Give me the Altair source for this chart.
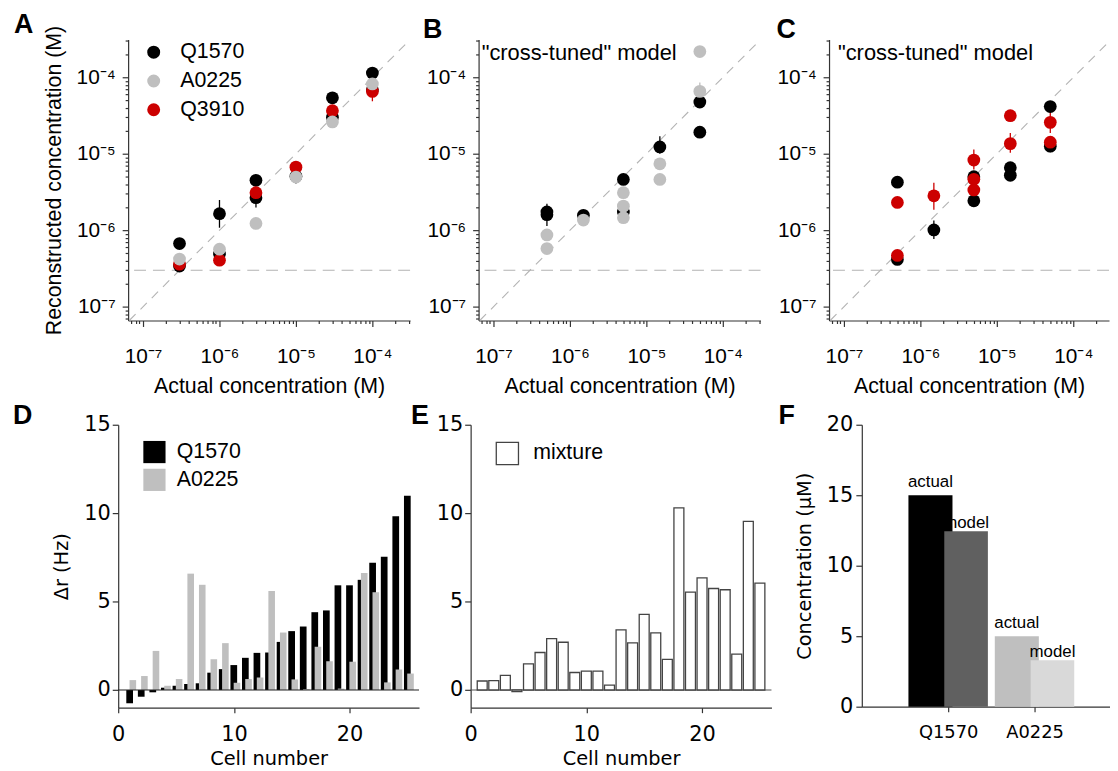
import altair as alt
import pandas as pd

FONT = "Liberation Sans"
FONT2 = "DejaVu Sans"
BLACK, GRAY, RED = "#000000", "#bfbfbf", "#cc0000"

# ---------------- Panel A : single odors ----------------
A_Q1570_x = [3e-7, 3e-7, 1e-6, 1e-6, 3e-6, 3e-6, 1e-5, 3e-5, 3e-5, 1e-4, 1e-4]
A_Q1570_y = [6.7e-7, 3.4e-7, 1.65e-6, 4.9e-7, 4.5e-6, 2.67e-6, 5.1e-6, 5.4e-5, 3.0e-5, 1.14e-4, 6.9e-5]
A_A0225_x = [3e-7, 1e-6, 3e-6, 1e-5, 3e-5, 1e-4]
A_A0225_y = [4.2e-7, 5.65e-7, 1.23e-6, 4.97e-6, 2.61e-5, 8.2e-5]
A_Q3910_x = [3e-7, 1e-6, 3e-6, 1e-5, 3e-5, 1e-4]
A_Q3910_y = [3.6e-7, 4.06e-7, 3.1e-6, 6.7e-6, 3.67e-5, 6.56e-5]
A_err_odor = ["Q1570", "Q1570", "Q1570", "Q3910"]
A_err_x = [1e-6, 3e-6, 1e-5, 1e-4]
A_err_lo = [1.08e-6, 1.98e-6, 4.1e-6, 4.87e-5]
A_err_hi = [2.49e-6, 3.2e-6, 5.8e-6, 7.8e-5]

# ---------------- Panel B : Q1570 + A0225 mixtures ----------------
B_Q1570_x = [5e-7, 5e-7, 1.5e-6, 5e-6, 5e-6, 1.5e-5, 5e-5, 5e-5]
B_Q1570_y = [1.74e-6, 1.6e-6, 1.57e-6, 4.62e-6, 1.73e-6, 1.23e-5, 4.76e-5, 1.92e-5]
B_A0225_x = [5e-7, 5e-7, 1.5e-6, 5e-6, 5e-6, 5e-6, 1.5e-5, 1.5e-5, 5e-5, 5e-5]
B_A0225_y = [8.7e-7, 5.77e-7, 1.36e-6, 3.1e-6, 2.07e-6, 1.46e-6, 7.41e-6, 4.62e-6, 6.56e-5, 2.18e-4]
B_err_odor = ["Q1570", "Q1570", "A0225"]
B_err_x = [5e-7, 1.5e-5, 5e-5]
B_err_lo = [1.14e-6, 1.0e-5, 5.5e-5]
B_err_hi = [2.23e-6, 1.7e-5, 8.6e-5]

# ---------------- Panel C : Q1570 + Q3910 mixtures ----------------
C_Q1570_x = [5e-7, 5e-7, 1.5e-6, 5e-6, 5e-6, 1.5e-5, 1.5e-5, 5e-5, 5e-5]
C_Q1570_y = [4.25e-6, 4.16e-7, 1.01e-6, 5.02e-6, 2.43e-6, 6.58e-6, 5.24e-6, 4.16e-5, 1.26e-5]
C_Q3910_x = [5e-7, 5e-7, 1.5e-6, 5e-6, 5e-6, 5e-6, 1.5e-5, 1.5e-5, 5e-5, 5e-5]
C_Q3910_y = [2.31e-6, 4.69e-7, 2.82e-6, 8.28e-6, 4.65e-6, 3.37e-6, 3.15e-5, 1.36e-5, 2.58e-5, 1.42e-5]
C_err_odor = ["Q1570", "Q3910", "Q3910", "Q3910", "Q3910", "Q1570"]
C_err_x = [1.5e-6, 1.5e-6, 5e-6, 1.5e-5, 5e-5, 5e-5]
C_err_lo = [7.7e-7, 1.85e-6, 6.26e-6, 1.03e-5, 1.87e-5, 1.05e-5]
C_err_hi = [1.34e-6, 4.2e-6, 1.14e-5, 1.87e-5, 3.58e-5, 1.5e-5]

NOISE_FLOOR = 3e-7
NOTE = '"cross-tuned" model'

# ---------------- Panel D / E : cell responses ----------------
CELLS = list(range(1, 26))
D_Q1570 = [-0.75, -0.38, -0.13, 0.13, 0.24, 0.34, 0.38, 0.98, 1.18, 1.41, 1.82, 2.1, 2.12,
           2.72, 3.33, 3.59, 4.4, 4.5, 5.92, 5.92, 6.23, 7.19, 7.54, 9.83, 10.99]
D_A0225 = [0.56, 0.79, 2.21, 0.24, 0.62, 6.58, 5.95, 1.74, 2.65, 0.41, 0.62, 0.71, 5.6,
           3.25, 0.6, 0.05, 2.45, 1.62, 0.08, 1.6, 6.62, 5.53, 0.43, 1.16, 0.93]
E_MIX = [0.51, 0.53, 0.83, -0.09, 1.48, 2.12, 2.91, 2.7, 0.99, 1.07, 1.07, 0.28, 3.4,
         2.66, 4.28, 3.23, 1.73, 10.3, 5.53, 6.34, 5.74, 5.67, 2.03, 9.53, 6.04]

# ---------------- Panel F : mixture decoding ----------------
F_ODORS = ["Q1570", "A0225"]
F_ACTUAL = [15.0, 5.0]
F_MODEL = [12.45, 3.3]

# ======================================================================
LOG_LO = 10 ** -7.195
X_HI = 10 ** -3.507
X_HI_C = 10 ** -3.533
Y_LO = 10 ** -7.18
Y_HI = 10 ** -3.505

SUP = {"-": "\u207b", "0": "\u2070", "1": "\u00b9", "2": "\u00b2", "3": "\u00b3", "4": "\u2074",
       "5": "\u2075", "6": "\u2076", "7": "\u2077", "8": "\u2078", "9": "\u2079"}
LOGV = "log(datum.value)/LN10"
MAJOR = f"abs({LOGV} - round({LOGV})) < 0.01"


def sup(e):
    return "".join(SUP[c] for c in str(e))


def log_label_expr():
    inner = "''"
    for e in [-9, -8, -7, -6, -5, -4, -3]:
        inner = f"round({LOGV}) == {e} ? '10{sup(e)}' : ({inner})"
    return f"{MAJOR} ? ({inner}) : ''"


def log_ticks(lo, hi):
    vals = []
    for e in range(-9, -2):
        for k in range(1, 10):
            v = float(f"{k}e{e}")
            if lo <= v <= hi:
                vals.append(v)
    return vals


TICK_COND = {"condition": {"test": MAJOR, "value": 6}, "value": 3}
ODOR_SCALE = alt.Scale(domain=["Q1570", "A0225", "Q3910"], range=[BLACK, GRAY, RED])


def letter(t, dx, offset=0, dy=0):
    return alt.TitleParams(text=t, anchor="start", frame="group", dx=dx, dy=dy, offset=offset,
                           baseline="alphabetic", fontSize=27, fontWeight="bold", font=FONT,
                           color="black")


def points_df(series):
    rows = []
    for name, xs, ys in series:
        for x, y in zip(xs, ys):
            rows.append({"odor": name, "x": x, "y": y})
    return pd.DataFrame(rows)


def scatter_panel(points, errs, width, xhi, let, let_dx, ytitle, legend, note_x=None):
    xs = alt.Scale(type="log", domain=[LOG_LO, xhi], nice=False)
    ys = alt.Scale(type="log", domain=[Y_LO, Y_HI], nice=False)
    xaxis = alt.Axis(title="Actual concentration (M)", values=log_ticks(LOG_LO, xhi),
                     labelExpr=log_label_expr(), tickSize=TICK_COND, labelPadding=19,
                     titlePadding=10, labelOverlap=False, labelFlush=False)
    yaxis = alt.Axis(title=ytitle, values=log_ticks(Y_LO, Y_HI), labelExpr=log_label_expr(),
                     tickSize=TICK_COND, labelPadding=7, titlePadding=11, labelOverlap=False,
                     labelFlush=False)
    X = alt.X("x:Q", scale=xs, axis=xaxis)
    Y = alt.Y("y:Q", scale=ys, axis=yaxis)
    d_lo, d_hi = max(LOG_LO, Y_LO), min(xhi, Y_HI)
    diag = alt.Chart(pd.DataFrame({"x": [d_lo, d_hi], "y": [d_lo, d_hi]})).mark_line(
        color="#b3b3b3", strokeDash=[9, 7], strokeWidth=1.1, clip=True).encode(x=X, y=Y)
    floor = alt.Chart(pd.DataFrame({"y": [NOISE_FLOOR]})).mark_rule(
        color="#b3b3b3", strokeDash=[12, 7], strokeWidth=1.1).encode(y=Y)
    col = alt.Color("odor:N", scale=ODOR_SCALE, legend=legend)
    ebar = alt.Chart(errs).mark_rule(strokeWidth=1.3).encode(
        x=X, y=alt.Y("lo:Q", scale=ys, axis=yaxis), y2="hi:Q", color=col)
    dots = alt.Chart(points).mark_circle(size=165, opacity=1).encode(x=X, y=Y, color=col)
    layers = [diag, floor, ebar, dots]
    if note_x is not None:
        note = alt.Chart(pd.DataFrame({"x": [note_x], "y": [2.05e-4], "t": [NOTE]})).mark_text(
            align="left", baseline="middle", fontSize=22, font=FONT, color="black").encode(
            x=X, y=Y, text="t:N")
        layers.append(note)
    return alt.layer(*layers).properties(width=width, height=283,
                                         title=letter(let, let_dx, offset=7, dy=42))


legA = alt.Legend(orient="none", legendX=15, legendY=2, title=None, symbolType="circle",
                  symbolSize=170, labelFontSize=21.5, labelOffset=16, rowPadding=6, padding=0,
                  symbolStrokeWidth=0, symbolOpacity=1, labelFont=FONT, labelColor="black")

A = scatter_panel(
    points_df([("Q1570", A_Q1570_x, A_Q1570_y), ("Q3910", A_Q3910_x, A_Q3910_y),
               ("A0225", A_A0225_x, A_A0225_y)]),
    pd.DataFrame({"odor": A_err_odor, "x": A_err_x, "lo": A_err_lo, "hi": A_err_hi}),
    284, X_HI, "A", -115, "Reconstructed concentration (M)", legA)
B = scatter_panel(
    points_df([("Q1570", B_Q1570_x, B_Q1570_y), ("A0225", B_A0225_x, B_A0225_y)]),
    pd.DataFrame({"odor": B_err_odor, "x": B_err_x, "lo": B_err_lo, "hi": B_err_hi}),
    284, X_HI, "B", -56, None, None, note_x=7.0e-8)
C = scatter_panel(
    points_df([("Q1570", C_Q1570_x, C_Q1570_y), ("Q3910", C_Q3910_x, C_Q3910_y)]),
    pd.DataFrame({"odor": C_err_odor, "x": C_err_x, "lo": C_err_lo, "hi": C_err_hi}),
    282, X_HI_C, "C", -53, None, None, note_x=8.35e-8)

# ---------------- D ----------------
cell_scale = alt.Scale(domain=[0, 26], nice=False, zero=False)
dr_scale = alt.Scale(domain=[-1, 15], nice=False)


def cell_x_axis():
    return alt.Axis(title="Cell number", values=[0, 10, 20], tickSize=5, labelPadding=11,
                    titlePadding=5, labelFlush=False, labelOverlap=False,
                    labelFont=FONT2, labelFontSize=21, titleFont=FONT2, titleFontSize=19.5)


def dr_y_axis(title):
    return alt.Axis(title=title, values=[0, 5, 10, 15], tickSize=6, labelPadding=2,
                    titlePadding=12, labelFlush=False, labelOverlap=False,
                    labelFont=FONT2, labelFontSize=21, titleFont=FONT2, titleFontSize=19.5)


dfD = pd.DataFrame({"cell": CELLS, "Q1570": D_Q1570, "A0225": D_A0225})
legD = alt.Legend(orient="none", legendX=25, legendY=16, title=None, symbolType="square",
                  symbolSize=500, labelFontSize=21.5, labelOffset=11, rowPadding=5, padding=0,
                  symbolStrokeWidth=0, symbolOpacity=1, labelFont=FONT, labelColor="black")
D_bars = alt.Chart(dfD).transform_fold(["Q1570", "A0225"], as_=["odor", "dr"]).transform_calculate(
    x1="datum.cell + (datum.odor == 'Q1570' ? -0.3 : -0.02)",
    x2="datum.cell + (datum.odor == 'Q1570' ? 0.28 : 0.55)",
    zero="0").mark_rect(strokeWidth=0).encode(
    x=alt.X("x1:Q", scale=cell_scale, axis=cell_x_axis()), x2="x2:Q",
    y=alt.Y("dr:Q", scale=dr_scale, axis=dr_y_axis("\u0394r (Hz)")), y2="zero:Q",
    color=alt.Color("odor:N", scale=alt.Scale(domain=["Q1570", "A0225"], range=[BLACK, GRAY]),
                    legend=legD))
D_zero = alt.Chart(pd.DataFrame({"y": [0]})).mark_rule(color="#222222", strokeWidth=1.2).encode(
    y=alt.Y("y:Q", scale=dr_scale, axis=dr_y_axis("\u0394r (Hz)")))
D = alt.layer(D_bars, D_zero).properties(width=303, height=285, title=letter("D", -106, dy=37))

# ---------------- E ----------------
dfE = pd.DataFrame({"cell": CELLS, "dr": E_MIX, "kind": ["mixture"] * len(CELLS)})
legE = alt.Legend(orient="none", legendX=25, legendY=17, title=None, symbolType="square",
                  symbolSize=500, labelFontSize=21.5, labelOffset=14, padding=0,
                  symbolStrokeColor="#444444", symbolStrokeWidth=1.3, symbolOpacity=1,
                  labelFont=FONT, labelColor="black")
E_zero = alt.Chart(pd.DataFrame({"y": [0]})).mark_rule(color="#555555", strokeWidth=1.2).encode(
    y=alt.Y("y:Q", scale=dr_scale, axis=dr_y_axis(None)))
E_bars = alt.Chart(dfE).transform_calculate(
    x1="datum.cell - 0.43", x2="datum.cell + 0.43", zero="0").mark_rect(
    stroke="#444444", strokeWidth=1.3).encode(
    x=alt.X("x1:Q", scale=cell_scale, axis=cell_x_axis()), x2="x2:Q",
    y=alt.Y("dr:Q", scale=dr_scale, axis=dr_y_axis(None)), y2="zero:Q",
    fill=alt.Fill("kind:N", scale=alt.Scale(domain=["mixture"], range=["#ffffff"]), legend=legE))
E = alt.layer(E_zero, E_bars).properties(width=303, height=285, title=letter("E", -60, dy=37))

# ---------------- F ----------------
FX = alt.Scale(domain=[0, 2.874], nice=False, zero=False)
FY = alt.Scale(domain=[0, 20], nice=False)
F_xaxis = alt.Axis(title=None, values=[1, 2], tickSize=5, labelPadding=12, labelFlush=False,
                   labelFont=FONT2, labelFontSize=18,
                   labelExpr=f"datum.value == 1 ? '{F_ODORS[0]}' : (datum.value == 2 ? '{F_ODORS[1]}' : '')")
F_yaxis = alt.Axis(title="Concentration (\u03bcM)", values=[0, 5, 10, 15, 20], tickSize=6,
                   labelPadding=3, titlePadding=12, labelFlush=False,
                   labelFont=FONT2, labelFontSize=21, titleFont=FONT2, titleFontSize=19.5)
dfF = pd.DataFrame({"odor": F_ODORS, "actual": F_ACTUAL, "model": F_MODEL})
baseF = alt.Chart(dfF).transform_window(pos="row_number()").transform_fold(
    ["actual", "model"], as_=["kind", "conc"]).transform_calculate(
    key="datum.odor + ' ' + datum.kind",
    x1="datum.pos + (datum.kind == 'actual' ? -0.46 : -0.045)",
    x2="datum.pos + (datum.kind == 'actual' ? 0.05 : 0.46)",
    xc="datum.pos + (datum.kind == 'actual' ? -0.205 : 0.2075)",
    zero="0")
F_bars = baseF.mark_rect(strokeWidth=0).encode(
    x=alt.X("x1:Q", scale=FX, axis=F_xaxis), x2="x2:Q",
    y=alt.Y("conc:Q", scale=FY, axis=F_yaxis), y2="zero:Q",
    color=alt.Color("key:N", scale=alt.Scale(
        domain=["Q1570 actual", "Q1570 model", "A0225 actual", "A0225 model"],
        range=["#000000", "#606060", "#bfbfbf", "#d9d9d9"]), legend=None))
F_txt_a = baseF.transform_filter("datum.kind == 'actual'").mark_text(
    baseline="alphabetic", dy=-8, fontSize=17, font=FONT, color="black").encode(
    x=alt.X("xc:Q", scale=FX, axis=F_xaxis), y=alt.Y("conc:Q", scale=FY, axis=F_yaxis), text="kind:N")
F_txt_m = baseF.transform_filter("datum.kind == 'model'").mark_text(
    baseline="alphabetic", dy=-3, fontSize=17, font=FONT, color="black").encode(
    x=alt.X("xc:Q", scale=FX, axis=F_xaxis), y=alt.Y("conc:Q", scale=FY, axis=F_yaxis), text="kind:N")
F = alt.layer(F_bars, F_txt_a, F_txt_m).properties(width=250, height=284,
                                                   title=letter("F", -84, dy=37))

# ---------------- layout ----------------
spacer = alt.Chart(pd.DataFrame({"s": []})).mark_point(opacity=0).properties(width=10, height=10)
ABC = alt.hconcat(A, B, C, spacing=69, bounds="flush").resolve_scale(color="independent")
row1 = alt.hconcat(spacer, ABC, spacing=0, bounds="flush").resolve_scale(color="independent")
DE = alt.hconcat(D, E, spacing=52, bounds="flush").resolve_scale(color="independent",
                                                                   fill="independent")
row2 = alt.hconcat(DE, F, spacing=6).resolve_scale(color="independent", fill="independent")
chart = alt.vconcat(row1, row2, spacing=4).resolve_scale(
    color="independent", fill="independent").properties(
    padding={"left": 5, "top": 0, "right": 0, "bottom": 0}
).configure_axis(
    labelFont=FONT, titleFont=FONT, labelFontSize=21, titleFontSize=21.5, titleFontWeight="normal",
    labelColor="black", titleColor="black", domainColor="#333333", tickColor="#333333",
    domainWidth=1.2, tickWidth=1.2, grid=False
).configure_view(stroke=None).configure_legend(labelFont=FONT)

chart.save("out.html", embed_options={"renderer": "svg", "actions": False})
